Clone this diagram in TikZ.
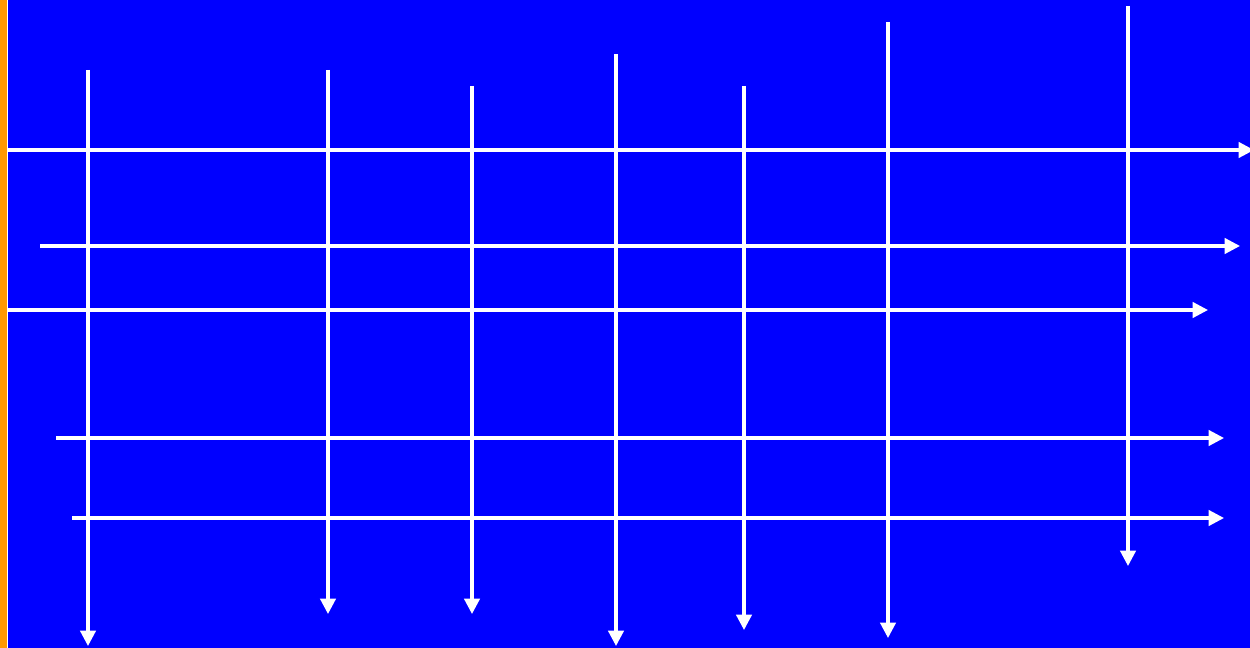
\documentclass[tikz,border=0pt]{standalone}
\usetikzlibrary{arrows.meta}
\definecolor{Field}{HTML}{0000FF}
\definecolor{Margin}{HTML}{FF9900}
\tikzset{
  wire/.style={-{Triangle[length=.31cm,width=.31cm]},draw=white,line width=1.8pt},
  seam/.style={draw=white,line width=.5pt}
}
\begin{document}
\begin{tikzpicture}[x=.02cm,y=-.02cm]
  \clip (0,0) rectangle (1250,648);
  \fill[Field] (0,0) rectangle (1250,648);
  \fill[Margin] (0,0) rectangle (7,648);
  \coordinate (st) at (7.5,0);
  \coordinate (sb) at (7.5,648);
  \draw[seam] (st) -- (sb);
  % rows
  \foreach \i/\y/\xa/\xb in {1/150/8/1254,2/246/40/1240,3/310/8/1208,4/438/56/1224,5/518/72/1224} {
    \coordinate (r\i a) at (\xa,\y);
    \coordinate (r\i b) at (\xb,\y);
    \draw[wire] (r\i a) -- (r\i b);
  }
  % columns
  \foreach \i/\x/\ya/\yb in {1/88/70/646,2/328/70/614,3/472/86/614,4/616/54/646,5/744/86/630,6/888/22/638,7/1128/6/566} {
    \coordinate (c\i a) at (\x,\ya);
    \coordinate (c\i b) at (\x,\yb);
    \draw[wire] (c\i a) -- (c\i b);
  }
\end{tikzpicture}
\end{document}
